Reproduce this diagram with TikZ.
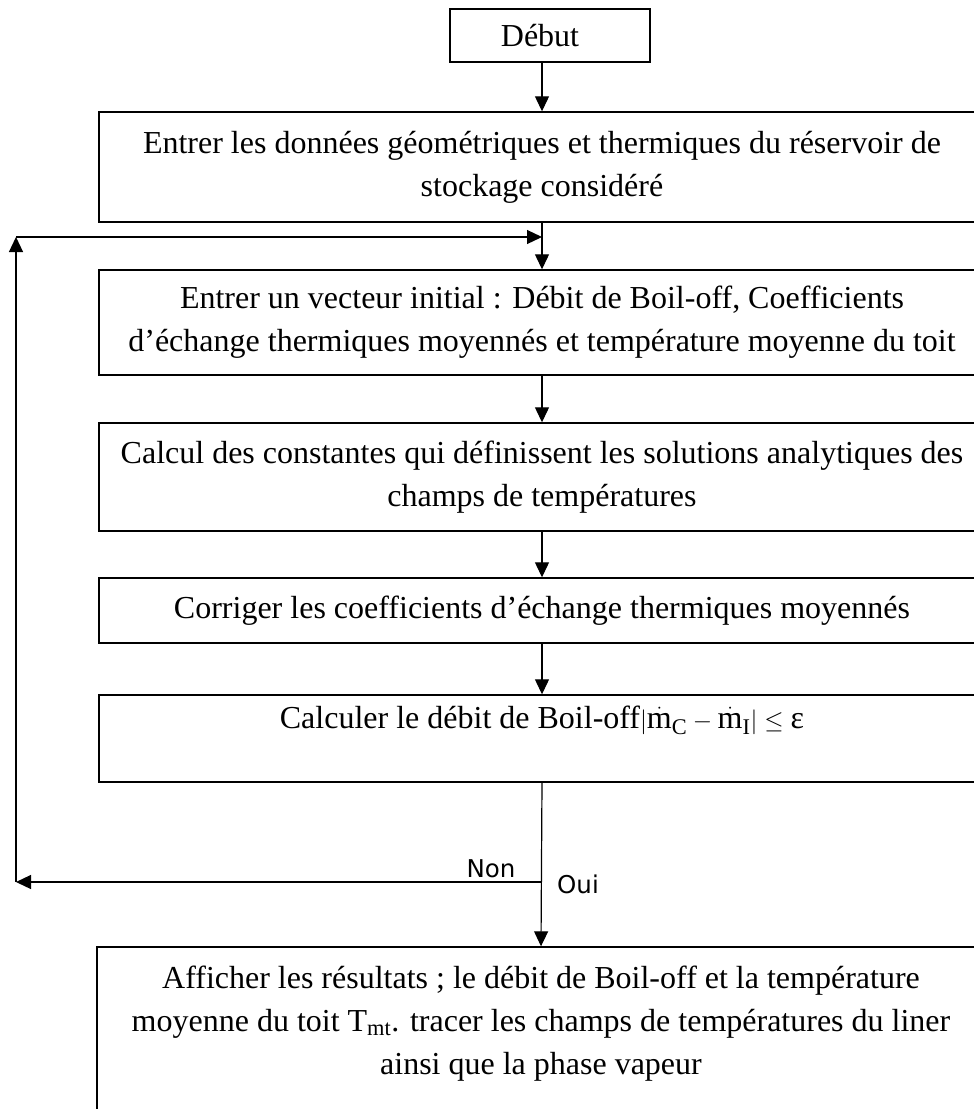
\documentclass[tikz,border=0pt]{standalone}
\usepackage{fontspec}
\setmainfont{Liberation Serif}
\newfontfamily\labelfont{DejaVu Sans}
\usetikzlibrary{arrows.meta}
\begin{document}
\begin{tikzpicture}[x=1pt,y=-1pt,
  box/.style={draw, line width=1.4pt, inner sep=0pt, align=center,
    font=\fontsize{32}{43}\selectfont},
  conn/.style={line width=1.2pt, -{Triangle[length=15pt,width=14pt]}},
  lbl/.style={font=\labelfont\fontsize{24.5}{28}\selectfont, inner sep=0pt}]
\useasboundingbox (0,0) rectangle (974,1109);
\clip (0,0) rectangle (974,1109);
\node[box, minimum width=200pt, minimum height=53pt] (debut) at (550,35.5) {\hspace*{-20pt}Début};
\node[box, minimum width=886pt, minimum height=110pt] (b2) at (542,167)
  {Entrer les données géométriques et thermiques du réservoir de\\stockage considéré};
\node[box, minimum width=886pt, minimum height=105pt] (b3) at (542,322.5)
  {Entrer un vecteur initial : Débit de Boil-off, Coefficients\\d’échange thermiques moyennés et température moyenne du toit};
\node[box, minimum width=886pt, minimum height=108pt] (b4) at (542,477)
  {Calcul des constantes qui définissent les solutions analytiques des\\champs de températures};
\node[box, minimum width=886pt, minimum height=65pt] (b5) at (542,610.5)
  {Corriger les coefficients d’échange thermiques moyennés};
\node[box, minimum width=886pt, minimum height=87pt] (b6) at (542,738.5)
  {Calculer le débit de Boil-off$|\dot{\mathrm{m}}_{\mathrm{C}}-\dot{\mathrm{m}}_{\mathrm{I}}|\leq\mbox{ε}$\\ \mbox{}};
\node[box, minimum width=888pt, minimum height=190pt] (b7) at (541,1042)
  {Afficher les résultats ; le débit de Boil-off et la température\\moyenne du toit T\textsubscript{mt}. tracer les champs de températures du liner\\ainsi que la phase vapeur\\ \mbox{}};
\node[lbl] (non) at (491,869) {Non};
\node[lbl] (oui) at (578,884) {Oui};
\coordinate (split) at (542,882);
\coordinate (lb) at (16,882);
\coordinate (lt) at (16,237);
\coordinate (join) at (542,237);
\draw[conn] (b2.north |- debut.south) -- (b2.north);
\draw[conn] (b2.south) -- (b3.north);
\draw[conn] (b3.south) -- (b4.north);
\draw[conn] (b4.south) -- (b5.north);
\draw[conn] (b5.south) -- (b6.north);
\draw[conn] (b6.south) -- (b7.north);
\draw[conn] (split) -- (lb);
\draw[conn] (lb) -- (lt);
\draw[conn] (lt) -- (join);
\end{tikzpicture}
\end{document}
